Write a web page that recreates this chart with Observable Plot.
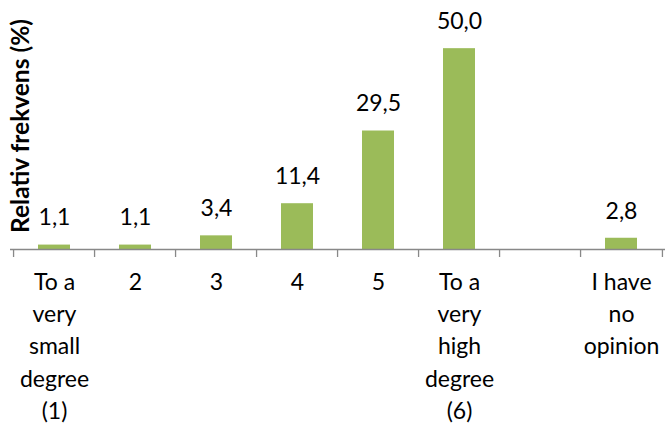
<!DOCTYPE html>
<html>
<head>
<meta charset="utf-8">
<script src="https://cdn.jsdelivr.net/npm/d3@7"></script>
<script src="https://cdn.jsdelivr.net/npm/@observablehq/plot@0.6"></script>
<style>
  html, body { margin: 0; padding: 0; background: #fff; }
  #chart svg { display: block; }
</style>
</head>
<body>
<div id="chart"></div>
<script>
const categories = ["1", "2", "3", "4", "5", "6", "gap", "none"];
const values = [1.1, 1.1, 3.4, 11.4, 29.5, 50.0, null, 2.8];
const tickLabels = [
  "To a\nvery\nsmall\ndegree\n(1)",
  "2", "3", "4", "5",
  "To a\nvery\nhigh\ndegree\n(6)",
  "",
  "I have\nno\nopinion"
];
const yLabel = "Relativ frekvens (%)";

const data = categories.map((c, i) => ({cat: c, value: values[i], label: tickLabels[i]}));
const barData = data.filter(d => d.value != null);
const fmt = v => d3.format(".1f")(v).replace(".", ",");

const W = 665, H = 426, mL = 10, mR = 0, mT = 8, mB = 177;
const step = (W - mL - mR) / categories.length;
const font = "Lato, 'Open Sans', sans-serif";
const gray = "#888888";

const chart = Plot.plot({
  width: W,
  height: H,
  marginLeft: mL,
  marginRight: mR,
  marginTop: mT,
  marginBottom: mB,
  style: {fontFamily: font, fontSize: "23px", color: "#000", background: "#fff"},
  x: {domain: categories, paddingInner: 0.6, paddingOuter: 0.3, axis: null},
  y: {domain: [0, 60], axis: null},
  marks: [
    Plot.barY(barData, {x: "cat", y: "value", fill: "#9BBB59"}),
    Plot.text(barData, {x: "cat", y: "value", text: d => fmt(d.value), dy: -27, fontSize: 23, fill: "#000"}),
    Plot.ruleY([0], {stroke: gray, strokeWidth: 1.3}),
    // tick marks at band boundaries
    Plot.axisX({tickSize: 8, tickFormat: () => "", stroke: gray, strokeWidth: 1.3, dx: -step / 2, label: null}),
    Plot.axisX({ticks: [categories[categories.length - 1]], tickSize: 8, tickFormat: () => "", stroke: gray, strokeWidth: 1.3, dx: step / 2, label: null}),
    // category labels
    Plot.axisX({tickSize: 0, tickPadding: 17, tickFormat: (d) => tickLabels[categories.indexOf(d)], fontSize: 23, lineHeight: 1.41, fill: "#000", label: null}),
    Plot.text([yLabel], {frameAnchor: "left", textAnchor: "middle", rotate: -90, dx: 11, dy: -3, fontSize: 24.5, fontWeight: "bold", fill: "#000"})
  ]
});
document.getElementById("chart").appendChild(chart);
</script>
</body>
</html>
